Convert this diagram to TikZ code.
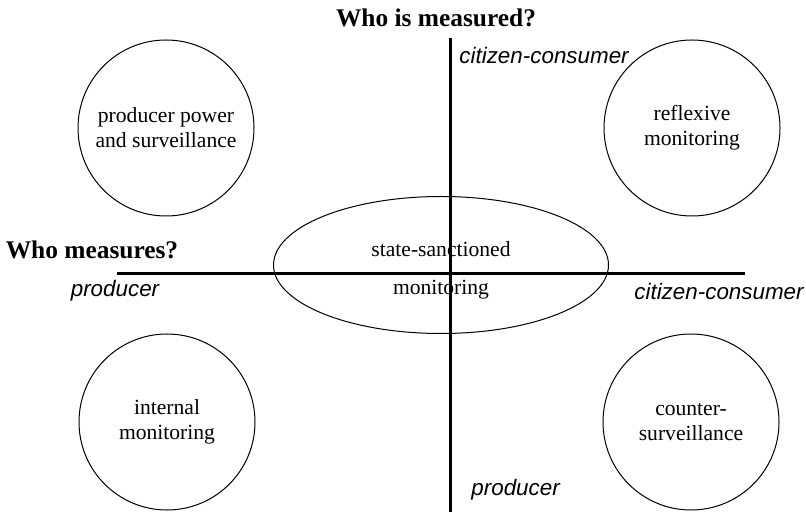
\documentclass[tikz,border=0pt]{standalone}
\usepackage{fontspec}
\setmainfont{Liberation Serif}
\newfontfamily\polefont{Liberation Sans}
\usetikzlibrary{shapes.geometric}

\begin{document}
\begin{tikzpicture}[x=0.5pt,y=-0.5pt,
  quadrant/.style={circle,draw,line width=0.5pt,minimum size=88pt,inner sep=0pt,align=center,font=\fontsize{10.8}{12.6}\selectfont},
  axis/.style={line width=1.5pt},
  heading/.style={font=\fontsize{12.7}{15}\selectfont\bfseries},
  pole/.style={inner sep=0pt,font=\polefont\itshape\fontsize{11.2}{13}\selectfont}]
\useasboundingbox (0,0) rectangle (806,512);
% the four corner circles
\node[quadrant] (pps) at (166,128) {producer power\\and surveillance};
\node[quadrant] (rm) at (692,128) {reflexive\\monitoring};
\node[quadrant] (im) at (167,422) {internal\\monitoring};
\node[quadrant] (cs) at (691,422) {counter-\\surveillance};
% the middle ellipse and its text
\node[ellipse,draw,line width=0.5pt,minimum width=167.5pt,minimum height=68.5pt,inner sep=0pt] (ssm) at (441,265) {};
\node[align=center,font=\fontsize{10.8}{12.6}\selectfont] (ssmtext) at ([yshift=-2.5pt]ssm.center) {state-sanctioned\\[6.5pt]monitoring};
% axes
\coordinate (west) at (117,274);
\coordinate (east) at (745,274);
\coordinate (north) at (450,38);
\coordinate (south) at (450,512);
\draw[axis] (west) -- (east);
\draw[axis] (north) -- (south);
% axis titles and poles
\node[heading] (who1) at (436,18) {Who is measured?};
\node[heading] (who2) at (92,250) {Who measures?};
\node[pole,anchor=west] (top) at (459,55) {citizen-consumer};
\node[pole,anchor=west] (bot) at (471,490) {producer};
\node[pole] (lft) at (115,291) {producer};
\node[pole] (rgt) at (719,291) {citizen-consumer};
\end{tikzpicture}
\end{document}
